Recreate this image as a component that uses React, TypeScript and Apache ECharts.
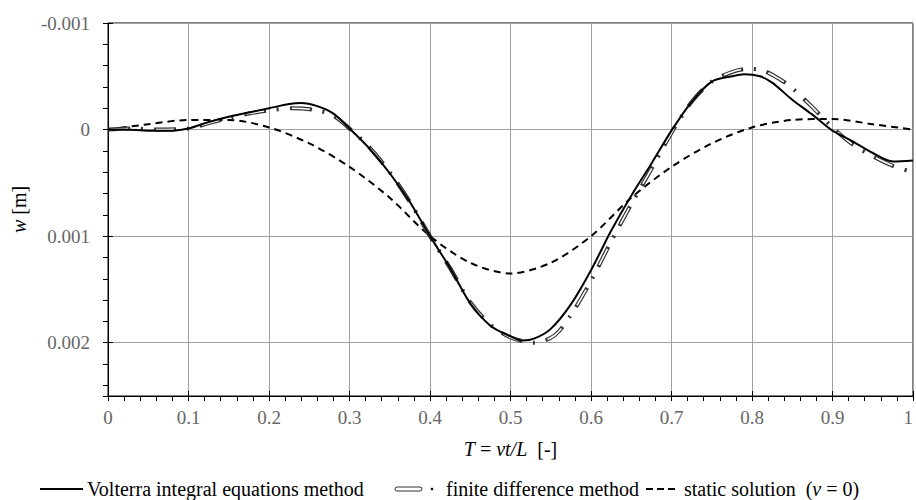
import React, { useEffect, useRef } from "react";
import * as echarts from "echarts";

// ---- data (T = vt/L, w [m]) ----
const volterraT = [0, 0.02, 0.05, 0.08, 0.1, 0.125, 0.15, 0.175, 0.2, 0.225, 0.24, 0.26, 0.28, 0.3, 0.325, 0.35, 0.375, 0.4, 0.425, 0.45, 0.475, 0.5, 0.515, 0.53, 0.55, 0.575, 0.6, 0.625, 0.65, 0.675, 0.7, 0.725, 0.75, 0.775, 0.79, 0.81, 0.825, 0.85, 0.875, 0.9, 0.925, 0.95, 0.975, 1];
const volterraW = [0, 0, 0.00001, 0.00001, -0.00001, -0.00007, -0.00012, -0.00016, -0.0002, -0.00024, -0.00025, -0.00022, -0.00015, -0.00001, 0.00018, 0.00041, 0.00068, 0.001, 0.0013, 0.00163, 0.00184, 0.00194, 0.00198, 0.00196, 0.00187, 0.00164, 0.00132, 0.00095, 0.00062, 0.00032, 0.00001, -0.00026, -0.00045, -0.0005, -0.00052, -0.0005, -0.00044, -0.00028, -0.00014, 0.00001, 0.00011, 0.00022, 0.0003, 0.00029];

const fdmT = [0, 0.03, 0.06, 0.1, 0.125, 0.15, 0.175, 0.2, 0.23, 0.26, 0.28, 0.3, 0.325, 0.35, 0.375, 0.4, 0.425, 0.45, 0.475, 0.5, 0.53, 0.555, 0.575, 0.6, 0.625, 0.65, 0.675, 0.7, 0.725, 0.75, 0.775, 0.795, 0.815, 0.835, 0.85, 0.875, 0.9, 0.925, 0.95, 0.975, 1];
const fdmW = [0, -0.00001, 0, -0.00001, -0.00006, -0.00011, -0.00015, -0.00018, -0.0002, -0.00018, -0.00013, -0.00001, 0.00017, 0.0004, 0.00068, 0.001, 0.0013, 0.00162, 0.00183, 0.00195, 0.002, 0.00193, 0.00174, 0.00142, 0.00105, 0.0007, 0.00037, 0.00003, -0.00026, -0.00045, -0.00054, -0.00057, -0.00055, -0.00047, -0.00039, -0.00021, -0.00002, 0.00014, 0.00025, 0.00034, 0.0004];

const staticT = [0, 0.05, 0.1, 0.15, 0.2, 0.25, 0.3, 0.35, 0.4, 0.45, 0.5, 0.55, 0.6, 0.65, 0.7, 0.75, 0.8, 0.85, 0.9, 0.95, 1];
const staticW = [0, -0.00005, -0.00009, -0.00009, -0.00002, 0.00013, 0.00035, 0.00064, 0.001, 0.00125, 0.00135, 0.00125, 0.001, 0.00064, 0.00035, 0.00013, -0.00002, -0.00009, -0.0001, -0.00005, 0];

const seriesNames = ["Volterra integral equations method", "finite difference method", "static solution"];

const zip = (xs: number[], ys: number[]) => xs.map((x, i) => [x, ys[i]]);

const SERIF = "Liberation Serif";

export default function App() {
  const ref = useRef<HTMLDivElement>(null);
  useEffect(() => {
    if (!ref.current) return;
    const chart = echarts.init(ref.current, undefined, { renderer: "svg" });
    const fdmPath = zip(fdmT, fdmW);
    const option: any = {
      animation: false,
      backgroundColor: "#fff",
      textStyle: { fontFamily: SERIF },
      grid: {
        left: 108,
        right: 3,
        top: 23,
        bottom: 104,
        show: true,
        borderColor: "#000",
        borderWidth: 1,
        backgroundColor: "transparent",
        containLabel: false,
        outerBoundsMode: "none",
      },
      xAxis: [
        {
          type: "value",
          min: 0,
          max: 1,
          interval: 0.1,
          position: "bottom",
          axisLine: { show: true, onZero: false, lineStyle: { color: "#000", width: 1 } },
          axisTick: { show: true, inside: true, length: 5, lineStyle: { color: "#000" } },
          axisLabel: {
            color: "#666",
            fontFamily: SERIF,
            fontSize: 19,
            margin: 12,
            alignMaxLabel: "right",
            formatter: (v: number) => String(+v.toFixed(1)),
          },
          splitLine: { show: true, lineStyle: { color: "#a0a0a0", width: 1 } },
          name: "{i|T} = {i|vt/L}  [-]",
          nameLocation: "middle",
          nameGap: 43,
          nameTextStyle: {
            color: "#000",
            fontFamily: SERIF,
            fontSize: 20,
            rich: {
              i: { fontFamily: SERIF, fontSize: 20, fontStyle: "italic", color: "#000" },
            },
          },
        },
        {
          type: "value",
          min: 0,
          max: 1,
          interval: 0.02,
          position: "bottom",
          axisLine: { show: false, onZero: false },
          axisTick: { show: true, inside: false, length: 5, lineStyle: { color: "#000" } },
          axisLabel: { show: false },
          splitLine: { show: false },
        },
      ],
      yAxis: [
        {
          type: "value",
          inverse: true,
          min: -0.001,
          max: 0.0025,
          interval: 0.001,
          position: "left",
          axisLine: { show: true, onZero: false, lineStyle: { color: "#000", width: 1 } },
          axisTick: { show: true, inside: true, length: 5, lineStyle: { color: "#000" } },
          axisLabel: {
            color: "#666",
            fontFamily: SERIF,
            fontSize: 19,
            margin: 18,
            formatter: (v: number) => (Math.abs(v - 0.0025) < 1e-9 ? "" : String(+v.toFixed(3))),
          },
          splitLine: { show: true, lineStyle: { color: "#a0a0a0", width: 1 } },
          name: "{i|w} [m]",
          nameLocation: "middle",
          nameGap: 79,
          nameRotate: 90,
          nameTextStyle: {
            color: "#000",
            fontFamily: SERIF,
            fontSize: 20,
            rich: {
              i: { fontFamily: SERIF, fontSize: 20, fontStyle: "italic", color: "#000" },
            },
          },
        },
        {
          type: "value",
          inverse: true,
          min: -0.001,
          max: 0.0025,
          interval: 0.0002,
          position: "left",
          axisLine: { show: false, onZero: false },
          axisTick: { show: true, inside: false, length: 5, lineStyle: { color: "#000" } },
          axisLabel: { show: false },
          splitLine: { show: false },
        },
      ],
      series: [
        {
          name: seriesNames[2],
          type: "line",
          data: zip(staticT, staticW),
          smooth: 0.3,
          showSymbol: false,
          symbol: "none",
          lineStyle: { color: "#000", width: 2, type: [7, 5] },
          z: 2,
        },
        {
          name: seriesNames[1],
          type: "line",
          data: fdmPath,
          smooth: 0.3,
          showSymbol: false,
          symbol: "none",
          lineStyle: { color: "#333", width: 4, type: [22, 11, 2, 11] },
          z: 3,
        },
        {
          name: seriesNames[1] + " (inner)",
          type: "line",
          data: fdmPath,
          smooth: 0.3,
          showSymbol: false,
          symbol: "none",
          lineStyle: { color: "#fff", width: 1.6, type: [0, 2, 18, 26] },
          z: 4,
        },
        {
          name: seriesNames[0],
          type: "line",
          data: zip(volterraT, volterraW),
          smooth: 0.3,
          showSymbol: false,
          symbol: "none",
          lineStyle: { color: "#000", width: 2 },
          z: 5,
        },
      ],
      graphic: [
        { type: "line", shape: { x1: 40, y1: 489, x2: 83, y2: 489 }, style: { stroke: "#000", lineWidth: 2 } },
        {
          type: "text",
          x: 87,
          y: 489,
          style: { text: seriesNames[0], fontFamily: SERIF, fontSize: 20, fill: "#000", verticalAlign: "middle" },
        },
        { type: "rect", shape: { x: 395, y: 487, width: 27, height: 4, r: 2 }, style: { fill: "#fff", stroke: "#333", lineWidth: 1 } },
        { type: "circle", shape: { cx: 432, cy: 489, r: 1.3 }, style: { fill: "#000" } },
        {
          type: "text",
          x: 446,
          y: 489,
          style: { text: seriesNames[1], fontFamily: SERIF, fontSize: 20, fill: "#000", verticalAlign: "middle" },
        },
        { type: "line", shape: { x1: 646, y1: 489, x2: 676, y2: 489 }, style: { stroke: "#000", lineWidth: 2, lineDash: [7, 4] } },
        {
          type: "text",
          x: 684,
          y: 489,
          style: {
            text: seriesNames[2] + "  ({i|v} = 0)",
            fontFamily: SERIF,
            fontSize: 20,
            fill: "#000",
            verticalAlign: "middle",
            rich: {
              i: { fontFamily: SERIF, fontSize: 20, fontStyle: "italic", fill: "#000" },
            },
          },
        },
      ],
    };
    chart.setOption(option);
    return () => chart.dispose();
  }, []);
  return (
    <div
      ref={ref}
      style={{ position: "fixed", left: 0, top: 0, width: 916, height: 500, background: "#fff" }}
    />
  );
}
